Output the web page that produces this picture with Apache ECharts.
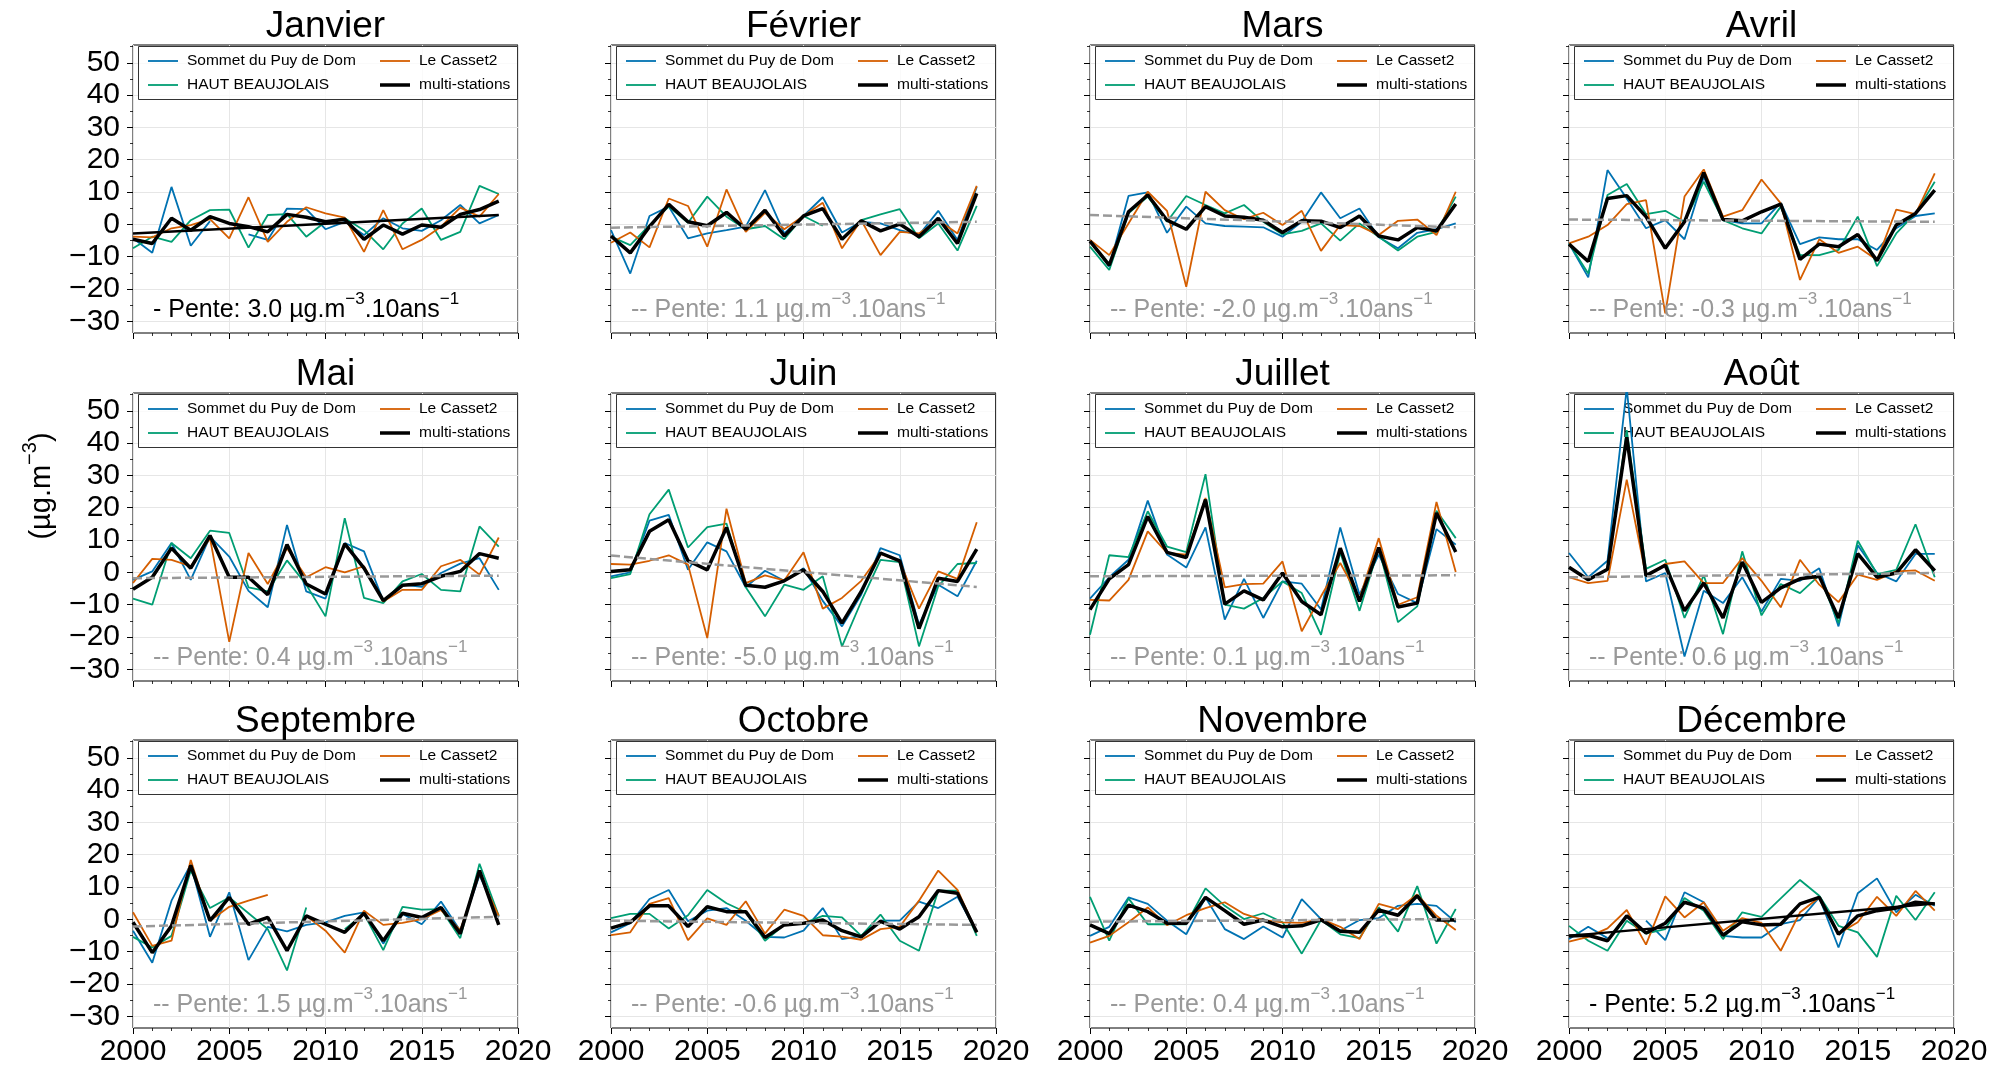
<!DOCTYPE html>
<html>
<head>
<meta charset="utf-8">
<script src="https://cdn.jsdelivr.net/npm/echarts@6/dist/echarts.min.js"></script>
<style>html,body{margin:0;padding:0;background:#fff}#c{width:2016px;height:1069px}</style>
</head>
<body>
<div id="c"></div>
<script>
// ---------- DATA ----------
const months = ['Janvier','Février','Mars','Avril','Mai','Juin','Juillet','Août','Septembre','Octobre','Novembre','Décembre'];
const years = [2000,2001,2002,2003,2004,2005,2006,2007,2008,2009,2010,2011,2012,2013,2014,2015,2016,2017,2018,2019];
const stationNames = ['Sommet du Puy de Dom','HAUT BEAUJOLAIS','Le Casset2','multi-stations'];

// Sommet du Puy de Dom (one row per month)
const sommetPuyDeDom = [
  [-4.3,-8.8,11.6,-6.6,1.0,null,-3.1,-4.8,4.9,4.7,-1.5,0.8,-3.3,1.9,-1.2,-2.0,1.3,6.0,0.3,2.9],
  [-1.8,-15.2,2.6,5.5,-4.3,-2.8,-1.8,-0.7,10.6,-2.8,2.6,8.4,-2.5,0.8,0.3,-1.8,-3.3,4.2,-4.8,11.6],
  [-4.8,-13.1,8.8,9.9,-2.6,5.5,0.3,-0.5,-0.7,-0.9,-3.8,0.8,9.9,1.9,4.9,-4.0,-7.4,-2.6,-1.5,0.3],
  [-5.9,-16.4,16.8,8.0,-1.2,1.3,-4.6,14.7,1.3,0.3,0.3,6.7,-6.1,-4.0,-4.6,-4.6,-7.9,-1.2,2.6,3.4],
  [-2.3,0.3,9.1,-2.3,11.1,4.9,-5.7,-10.8,14.7,-5.9,-8.1,9.1,6.5,-8.8,-3.8,-4.5,-0.2,2.7,4.4,-5.4],
  [-1.2,0.0,16.0,17.8,0.8,9.3,6.5,-4.6,0.5,-2.6,1.3,-8.8,-16.7,-6.9,7.5,5.3,-16.2,-3.8,-7.4,3.6],
  [-8.1,-1.5,3.9,22.2,5.5,1.5,13.9,-14.6,-2.0,-14.1,-2.8,-3.5,-11.5,13.9,-6.9,5.5,-6.7,-9.5,13.4,8.6],
  [6.0,-1.5,3.6,57.0,-2.8,-0.2,-26.0,-5.7,-9.5,-1.5,-12.1,-2.0,-2.6,1.3,-16.7,8.4,-0.2,-2.8,5.7,5.7],
  [-3.5,-13.4,5.8,17.0,-5.4,8.4,-12.6,-2.3,-3.7,-1.7,-0.9,1.1,2.2,-7.5,1.7,-1.5,5.5,-3.5,13.6,0.8],
  [-4.0,-1.2,6.3,9.1,-0.6,2.7,3.5,-0.4,-5.4,-5.6,-3.5,3.5,-6.1,-5.1,-0.4,-0.4,5.5,3.5,7.0,-4.0],
  [-5.1,-2.3,6.8,4.8,-0.4,-4.6,6.8,-3.0,-6.1,-2.2,-5.6,6.3,0.1,-3.5,-0.2,0.4,4.2,4.8,4.2,-0.9],
  [-6.1,-2.3,-5.8,null,-0.4,-6.4,8.4,5.3,-5.1,-5.6,-5.6,-1.5,-0.2,6.8,-8.7,8.1,12.7,2.2,7.6,4.2]
];
// HAUT BEAUJOLAIS
const hautBeaujolais = [
  [-7.4,-3.8,-5.4,1.3,4.4,4.6,-7.2,2.9,3.2,-3.8,0.8,1.9,-1.8,-7.7,0.3,4.9,-4.8,-2.3,11.9,9.4],
  [-3.8,-6.4,-0.2,5.5,0.5,8.6,2.4,-1.5,-0.5,-4.6,2.6,-0.4,null,1.3,3.1,4.7,-4.3,0.3,-8.1,5.7],
  [-6.9,-14.1,3.4,8.6,0.8,8.8,6.0,3.4,6.0,0.8,-3.1,-2.0,0.3,-5.0,0.3,-3.8,-8.1,-3.8,-2.3,8.6],
  [-5.9,-15.2,9.1,12.5,3.2,4.2,0.8,13.2,1.3,-1.2,-2.8,5.5,-9.5,-9.5,-7.9,2.4,-12.9,-2.8,3.4,13.2],
  [-8.1,-10.0,9.1,4.4,12.9,12.2,-4.6,-5.9,3.7,-3.8,-13.6,16.8,-7.9,-9.5,-2.8,-0.5,-5.4,-5.9,14.2,8.0],
  [-1.8,-0.5,18.0,25.6,7.7,14.0,15.1,-4.6,-13.6,-3.8,-5.4,-1.2,-22.9,-9.0,3.9,3.2,-22.9,-4.3,2.6,2.9],
  [-19.3,5.3,4.7,18.9,8.0,6.3,30.4,-10.0,-11.2,-7.9,-2.8,-6.4,-19.3,6.2,-11.9,7.5,-15.4,-10.5,19.1,10.6],
  [1.5,-2.3,0.8,44.0,1.1,3.9,-14.1,-0.9,-19.1,6.5,-13.3,-3.6,-6.4,-0.9,-15.7,9.8,-0.5,0.8,14.9,-1.5],
  [-5.4,-8.7,-5.1,15.1,3.5,6.8,1.9,-3.0,-15.8,3.7,null,-3.0,1.7,-9.5,3.9,3.0,3.2,-5.8,17.2,1.1],
  [0.4,1.7,1.7,-2.8,1.3,9.1,5.0,2.2,-6.6,-1.7,-1.2,1.1,0.6,-5.1,1.5,-6.6,-9.7,8.9,8.9,-5.1],
  [7.0,-6.6,6.5,-1.5,-1.5,-1.5,9.6,4.2,0.1,1.9,-0.9,-10.6,-0.2,-4.6,-5.8,3.7,-3.8,10.3,-7.5,3.2],
  [-2.0,-6.6,-9.7,-0.4,-4.4,-3.0,6.6,2.7,-6.1,2.2,0.8,6.5,12.2,7.3,-2.0,-4.0,-11.6,7.3,-0.2,8.4]
];
// Le Casset2
const leCasset2 = [
  [-3.8,-4.0,-1.2,-0.2,1.6,-4.3,8.4,-5.4,0.8,5.3,3.4,2.1,-8.5,4.4,-7.7,-4.8,-0.7,5.2,2.4,9.4],
  [-5.7,-2.5,-7.1,8.0,5.7,-6.9,10.8,-2.3,3.6,-1.5,2.6,6.7,-7.4,1.3,-9.5,-2.3,-2.8,1.3,-2.8,11.9],
  [-4.8,-9.5,0.3,10.1,4.2,-19.3,10.1,4.4,1.6,3.6,-0.2,4.2,-8.2,-0.2,-0.5,-3.3,1.1,1.5,-3.3,10.1],
  [-5.9,-3.8,-0.2,6.3,7.5,-27.5,8.6,17.0,2.4,4.4,13.9,6.5,-17.2,-4.6,-8.8,-6.9,-11.0,4.6,3.2,15.8],
  [-3.3,4.2,3.9,1.9,10.6,-21.5,6.0,-3.6,7.5,-1.5,1.6,0.0,1.9,-9.0,-5.4,-5.4,1.9,3.9,-0.7,10.8],
  [2.6,2.4,3.6,5.3,2.4,-20.3,19.7,-3.3,-0.9,-2.5,6.2,-11.2,-7.9,-2.6,5.7,3.4,-11.2,0.3,-2.0,15.5],
  [-8.5,-8.7,-2.3,12.7,6.0,5.5,23.0,-4.6,-3.6,-3.5,3.4,-18.2,-7.4,2.9,-8.1,10.6,-10.0,-7.7,21.8,0.1],
  [-1.5,-3.3,-2.6,28.7,-1.2,2.6,3.4,-3.3,-3.3,4.4,-2.6,-10.8,3.9,-3.8,-9.2,-0.7,-2.3,0.3,0.6,-2.6],
  [2.2,-8.2,-6.6,18.4,-0.4,3.9,5.8,7.6,null,1.1,-3.5,-10.3,2.7,-1.7,-1.1,0.1,2.9,-3.3,14.1,1.1],
  [-4.9,-4.0,4.8,6.6,-6.4,0.3,-1.7,5.6,-4.4,3.0,1.1,-4.9,-5.3,-6.3,-3.0,-2.3,5.8,15.1,9.1,-4.0],
  [-7.2,-5.1,-0.9,3.7,-1.8,1.3,3.5,5.3,1.7,-0.2,-0.9,-1.1,0.1,-2.3,-6.1,4.8,3.2,7.7,1.1,-3.3],
  [-6.9,-5.4,-2.8,2.9,-7.8,7.1,0.6,5.3,-3.5,0.4,-1.1,-9.7,2.2,6.8,-4.4,-0.9,7.0,1.1,8.8,2.7]
];
// multi-stations
const multiStations = [
  [-4.6,-5.9,1.9,-1.8,2.4,0.3,-0.7,-2.3,3.1,2.2,0.8,1.6,-4.6,-0.2,-3.0,-0.2,-0.9,3.1,4.6,7.2],
  [-3.6,-8.8,-0.7,6.2,0.8,-0.4,3.7,-1.5,4.4,-3.6,2.6,4.9,-4.6,1.1,-2.0,0.1,-3.8,1.9,-5.9,9.6],
  [-5.2,-12.6,3.9,9.1,1.3,-1.5,5.5,2.6,2.2,1.3,-2.5,1.1,1.0,-1.0,2.6,-3.6,-4.8,-1.0,-2.0,6.3],
  [-6.1,-11.5,8.0,8.9,2.4,-7.4,0.8,16.0,1.5,1.1,3.9,6.3,-10.8,-6.1,-6.9,-3.1,-11.2,-0.2,3.4,10.6],
  [-5.2,-1.5,7.5,1.3,11.4,-1.5,-1.5,-6.9,8.6,-3.6,-6.7,8.8,1.3,-8.7,-4.0,-3.5,-1.2,0.3,5.8,4.4],
  [0.3,0.8,12.7,16.3,3.6,0.8,13.9,-4.0,-4.6,-2.6,0.8,-5.9,-15.7,-5.9,6.0,3.6,-17.4,-1.8,-2.8,7.2],
  [-11.5,-2.0,2.4,17.3,6.2,4.6,22.5,-9.8,-5.7,-8.5,-0.2,-9.0,-13.1,7.5,-9.0,7.7,-10.7,-9.5,18.4,6.3],
  [1.6,-2.3,1.0,41.8,-1.0,2.2,-11.9,-3.3,-14.1,3.2,-9.3,-4.8,-2.0,-1.2,-14.1,5.8,-1.5,-0.2,7.0,0.5],
  [-0.9,-10.3,-2.0,16.7,-0.4,6.8,-1.5,0.6,-9.7,1.1,-1.5,-4.0,1.9,-6.6,1.9,0.6,3.7,-4.4,15.1,-1.7],
  [-2.7,-0.9,4.2,4.2,-2.2,3.9,2.4,2.4,-5.6,-1.7,-1.2,-0.2,-3.5,-5.4,-0.6,-3.0,0.8,8.9,8.1,-4.0],
  [-1.7,-4.4,4.4,2.4,-1.2,-1.2,6.8,2.7,-1.5,-0.2,-2.3,-2.0,-0.1,-3.7,-4.0,2.9,1.3,7.3,-0.2,-0.2],
  [-5.1,-4.9,-6.6,1.1,-4.2,-1.2,5.3,3.5,-4.9,-0.7,-1.7,-1.5,4.8,6.8,-4.6,1.1,2.7,3.5,5.3,4.8]
];
// trend line ends (value at 2000 and at 2019), slopes and significance
const trendStart = [-2.8,-1.0,2.9,1.5,-1.8,5.2,-1.2,-1.5,-2.2,-0.4,-0.7,-5.1];
const trendEnd   = [2.9,0.8,-0.9,0.8,-1.0,-4.5,-0.9,-0.2,0.8,-1.7,0.1,4.9];
const pente = [3.0,1.1,-2.0,-0.3,0.4,-5.0,0.1,0.6,1.5,-0.6,0.4,5.2];
const penteSignificative = [true,false,false,false,false,false,false,false,false,false,false,true];

const yTicks = [-30,-20,-10,0,10,20,30,40,50];
const yMinorTicks = [-25,-15,-5,5,15,25,35,45,55];

// ---------- LAYOUT / STYLE ----------
const FONT = "'Liberation Sans', Arial, Helvetica, sans-serif";
const colLeft = [133, 611, 1090, 1569];
const rowTop = [45, 393, 740];
const GW = 385, GH = 288;
const Y_MIN = -33.6, Y_MAX = 55.5;
const colors = {
  'Sommet du Puy de Dom': '#0072B2',
  'HAUT BEAUJOLAIS': '#009E73',
  'Le Casset2': '#D55E00',
  'multi-stations': '#000000'
};
const widths = {'Sommet du Puy de Dom': 1.8, 'HAUT BEAUJOLAIS': 1.8, 'Le Casset2': 1.8, 'multi-stations': 3.5};
// legend glyphs: a horizontal bar of the line width inside a 30x14 box
const legendIcons = {
  'Sommet du Puy de Dom': 'path://M0,0M0,6.1H30V7.9H0ZM30,14',
  'HAUT BEAUJOLAIS': 'path://M0,0M0,6.1H30V7.9H0ZM30,14',
  'Le Casset2': 'path://M0,0M0,6.1H30V7.9H0ZM30,14',
  'multi-stations': 'path://M0,0M0,5.25H30V8.75H0ZM30,14'
};
const stationData = {
  'Sommet du Puy de Dom': sommetPuyDeDom,
  'HAUT BEAUJOLAIS': hautBeaujolais,
  'Le Casset2': leCasset2,
  'multi-stations': multiStations
};
const GRID_COLOR = '#e6e6e6';
const GRAY = '#999999';
const fmtNum = v => (v < 0 ? '\u2212' + (-v) : String(v));

const grids = [], xAxes = [], yAxes = [], series = [], legends = [], graphics = [];

months.forEach((m, i) => {
  const r = Math.floor(i / 4), c = i % 4;
  const gl = colLeft[c], gt = rowTop[r];
  grids.push({left: gl, top: gt, width: GW, height: GH, show: true, borderColor: '#000', borderWidth: 1, backgroundColor: '#fff'});
  xAxes.push({
    type: 'value', gridIndex: i, min: 2000, max: 2020, interval: 5, position: 'bottom',
    axisLine: {show: false, onZero: false},
    axisTick: {show: true, length: 6, lineStyle: {color: '#000', width: 1}},
    minorTick: {show: true, splitNumber: 5, length: 3, lineStyle: {color: '#000', width: 0.8}},
    axisLabel: {show: r === 2, margin: 9, fontSize: 30, color: '#000', fontFamily: FONT, formatter: v => String(v)},
    splitLine: {show: true, lineStyle: {color: GRID_COLOR, width: 1}},
    minorSplitLine: {show: false}
  });
  yAxes.push({
    type: 'value', gridIndex: i, min: Y_MIN, max: Y_MAX, position: 'left',
    axisLine: {show: false, onZero: false},
    axisTick: {show: true, customValues: yTicks, length: 6, lineStyle: {color: '#000', width: 1}},
    axisLabel: {show: c === 0, customValues: yTicks, margin: 13, fontSize: 30, color: '#000', fontFamily: FONT, formatter: fmtNum},
    splitLine: {show: true, lineStyle: {color: GRID_COLOR, width: 1}}
  });
  yAxes.push({
    type: 'value', gridIndex: i, min: Y_MIN, max: Y_MAX, position: 'left',
    axisLine: {show: false, onZero: false},
    axisTick: {show: true, customValues: yMinorTicks, length: 3, lineStyle: {color: '#000', width: 0.8}},
    axisLabel: {show: false},
    splitLine: {show: false}
  });
  stationNames.forEach(name => {
    series.push({
      type: 'line', name: name, xAxisIndex: i, yAxisIndex: 2 * i,
      data: years.map((y, k) => [y, stationData[name][i][k]]),
      symbol: 'none', showSymbol: false, connectNulls: false, clip: true, z: 5,
      lineStyle: {color: colors[name], width: widths[name]},
      itemStyle: {color: colors[name]},
      emphasis: {disabled: true}
    });
  });
  const sig = penteSignificative[i];
  series.push({
    type: 'line', name: 'tendance', xAxisIndex: i, yAxisIndex: 2 * i,
    data: [[years[0], trendStart[i]], [years[years.length - 1], trendEnd[i]]],
    symbol: 'none', clip: true, z: 6,
    lineStyle: sig ? {color: '#000', width: 2.5, type: 'solid'} : {color: GRAY, width: 2.5, type: [9, 4]},
    emphasis: {disabled: true}
  });
  // legends: two columns
  const legCommon = {
    orient: 'vertical', top: gt + 8, itemWidth: 30, itemHeight: 14, itemGap: 8, padding: 0,
    selectedMode: false, z: 4,
    itemStyle: {borderWidth: 0},
    textStyle: {fontSize: 15.5, color: '#000', fontFamily: FONT, lineHeight: 14, padding: [0, 0, 0, 4]}
  };
  const mk = n => ({name: n, icon: legendIcons[n], itemStyle: {color: colors[n], borderWidth: 0}});
  legends.push(Object.assign({}, legCommon, {left: gl + 15, data: [mk('Sommet du Puy de Dom'), mk('HAUT BEAUJOLAIS')]}));
  legends.push(Object.assign({}, legCommon, {left: gl + 247, data: [mk('Le Casset2'), mk('multi-stations')]}));
  // legend frame
  graphics.push({type: 'rect', z: 3, shape: {x: gl + 5.5, y: gt + 1.5, width: GW - 6, height: 53},
    style: {fill: 'rgba(255,255,255,0.8)', stroke: '#333', lineWidth: 1}});
  // title
  graphics.push({type: 'text', z: 10, x: gl + GW / 2, y: gt - 18,
    style: {text: m, fontSize: 37, fontFamily: FONT, fill: '#000', align: 'center', verticalAlign: 'middle'}});
  // slope annotation
  const col = sig ? '#000' : GRAY;
  const prefix = sig ? '- ' : '-- ';
  const txt = '{n|' + prefix + 'Pente: ' + pente[i].toFixed(1) + ' \u00b5g.m}{s|\u22123}{n|.10ans}{s|\u22121}';
  graphics.push({type: 'text', z: 10, x: gl + 20, y: gt + 262,
    style: {text: txt, fill: col, align: 'left', verticalAlign: 'middle',
      rich: {
        n: {fontSize: 25, fontFamily: FONT, fill: col, lineHeight: 32, verticalAlign: 'bottom'},
        s: {fontSize: 17, fontFamily: FONT, fill: col, lineHeight: 17, verticalAlign: 'top'}
      }}});
});

// y axis name
graphics.push({type: 'text', z: 10, x: 38, y: 486, rotation: Math.PI / 2,
  style: {text: '{n|(\u00b5g.m}{s|\u22123}{n|)}', fill: '#000', align: 'center', verticalAlign: 'middle',
    rich: {
      n: {fontSize: 29, fontFamily: FONT, fill: '#000', lineHeight: 36, verticalAlign: 'bottom'},
      s: {fontSize: 20, fontFamily: FONT, fill: '#000', lineHeight: 20, verticalAlign: 'top'}
    }}});

const chart = echarts.init(document.getElementById('c'), null, {renderer: 'canvas'});
chart.setOption({
  animation: false,
  backgroundColor: '#fff',
  grid: grids, xAxis: xAxes, yAxis: yAxes, series: series, legend: legends,
  graphic: {elements: graphics}
});
</script>
</body>
</html>
